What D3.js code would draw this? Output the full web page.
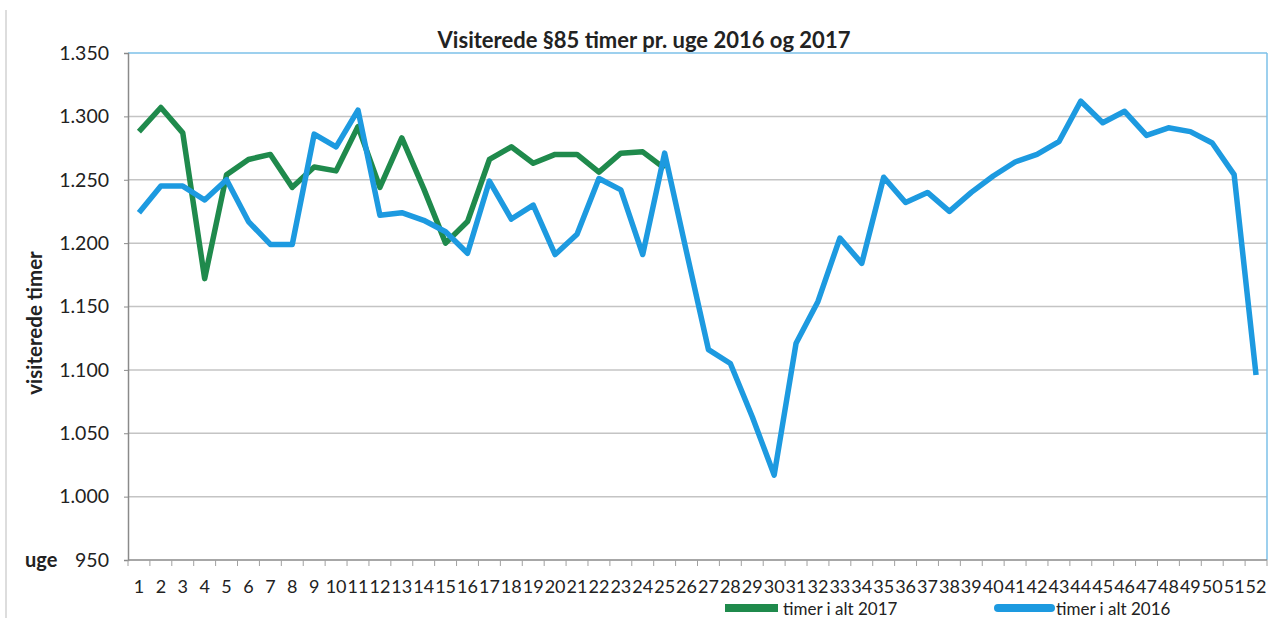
<!DOCTYPE html>
<html>
<head>
<meta charset="utf-8">
<script src="https://cdn.jsdelivr.net/npm/d3@7"></script>
<style>
  body { margin: 0; background: #fff; }
  svg { display: block; font-family: Lato, "Open Sans", sans-serif; }
</style>
</head>
<body>
<div id="container"></div>
<script>
// week numbers on the x axis
const weeks = d3.range(1, 53);

// visited hours 2017 (weeks 1-25)
const hours2017 = [1288, 1307, 1287, 1172, 1254, 1266, 1270, 1244, 1260, 1257,
                   1292, 1244, 1283, 1243, 1200, 1217, 1266, 1276, 1263, 1270,
                   1270, 1256, 1271, 1272, 1259];

// visited hours 2016 (weeks 1-52)
const hours2016 = [1224, 1245, 1245, 1234, 1250, 1217, 1199, 1199, 1286, 1276,
                   1305, 1222, 1224, 1218, 1209, 1192, 1249, 1219, 1230, 1191,
                   1207, 1251, 1242, 1191, 1271, 1193, 1116, 1105, 1063, 1017,
                   1121, 1154, 1204, 1184, 1252, 1232, 1240, 1225, 1240, 1253,
                   1264, 1270, 1280, 1312, 1295, 1304, 1285, 1291, 1288, 1279,
                   1254, 1096];

const yTicks = [950, 1000, 1050, 1100, 1150, 1200, 1250, 1300, 1350];

const w = 1280;
const h = 618;
const plotLeft = 128, plotRight = 1267, plotTop = 53, plotBottom = 560;

const blue = "#1d9ae0";
const green = "#1f8a4c";

// Danish number format: 1.350
const dk = d3.formatLocale({ decimal: ",", thousands: ".", grouping: [3], currency: ["", " kr"] });
const fmt = dk.format(",d");

const svg = d3.select("#container")
              .append("svg")
              .attr("width", w)
              .attr("height", h);

//page edge
svg.append("line")
   .attr("x1", 6).attr("x2", 6).attr("y1", 10).attr("y2", h)
   .attr("stroke", "#ddd").attr("stroke-width", 2);

//SCALES
const xScale = d3.scaleBand()
                 .domain(weeks)
                 .range([plotLeft, plotRight]);
const yScale = d3.scaleLinear()
                 .domain([950, 1350])
                 .range([plotBottom, plotTop]);
const cx = d => xScale(d) + xScale.bandwidth() / 2;

//GRID
svg.append("g")
   .selectAll("line")
   .data(yTicks.slice(1, -1))
   .enter()
   .append("line")
   .attr("x1", plotLeft).attr("x2", plotRight)
   .attr("y1", d => yScale(d)).attr("y2", d => yScale(d))
   .attr("stroke", "#c4c4c4")
   .attr("stroke-width", 1.5);

//plot frame (top and right are light blue)
svg.append("line")
   .attr("x1", plotLeft).attr("x2", plotRight)
   .attr("y1", plotTop).attr("y2", plotTop)
   .attr("stroke", "#7cc0e8").attr("stroke-width", 1.5);
svg.append("line")
   .attr("x1", plotRight).attr("x2", plotRight)
   .attr("y1", plotTop).attr("y2", plotBottom)
   .attr("stroke", "#7cc0e8").attr("stroke-width", 1.5);

//Y AXIS
const yAxis = d3.axisLeft(yScale).tickValues(yTicks).tickFormat(fmt).tickSize(4).tickPadding(15);
const gy = svg.append("g")
   .attr("transform", `translate(${plotLeft}, 0)`)
   .call(yAxis);
gy.select(".domain").attr("stroke", "#8a8a8a").attr("stroke-width", 1.5);
gy.selectAll(".tick line").attr("stroke", "#8a8a8a");
gy.selectAll("text")
  .attr("font-size", 19.5)
  .attr("fill", "#222")
  .attr("font-family", "Lato, sans-serif");

//X AXIS
const gx = svg.append("g")
   .attr("transform", `translate(0, ${plotBottom})`);
gx.append("line")
  .attr("x1", plotLeft).attr("x2", plotRight)
  .attr("stroke", "#8a8a8a").attr("stroke-width", 1.5);
gx.selectAll(".tk")
  .data(weeks.concat([null]))
  .enter()
  .append("line")
  .attr("x1", d => d === null ? plotRight : xScale(d))
  .attr("x2", d => d === null ? plotRight : xScale(d))
  .attr("y1", 0).attr("y2", 6)
  .attr("stroke", "#a0a0a0");
gx.selectAll("text")
  .data(weeks)
  .enter()
  .append("text")
  .attr("x", d => cx(d))
  .attr("y", 33)
  .attr("text-anchor", "middle")
  .attr("font-size", 18)
  .attr("fill", "#222")
  .text(d => d);

//LINES
const line = d3.line()
               .x((d, i) => cx(weeks[i]))
               .y(d => yScale(d));

svg.append("path")
   .datum(hours2017)
   .attr("d", line)
   .attr("fill", "none")
   .attr("stroke", green)
   .attr("stroke-width", 5.5)
   .attr("stroke-linejoin", "round");

svg.append("path")
   .datum(hours2016)
   .attr("d", line)
   .attr("fill", "none")
   .attr("stroke", blue)
   .attr("stroke-width", 5.5)
   .attr("stroke-linejoin", "round");

//TITLES
svg.append("text")
   .attr("x", 644)
   .attr("y", 48)
   .attr("text-anchor", "middle")
   .attr("font-size", 22)
   .attr("font-weight", "bold")
   .attr("fill", "#222")
   .text("Visiterede §85 timer pr. uge 2016 og 2017");

svg.append("text")
   .attr("transform", "translate(42, 323) rotate(-90)")
   .attr("text-anchor", "middle")
   .attr("font-size", 20.5)
   .attr("font-weight", "bold")
   .attr("fill", "#222")
   .text("visiterede timer");

svg.append("text")
   .attr("x", 25)
   .attr("y", 567)
   .attr("font-size", 20)
   .attr("font-weight", "bold")
   .attr("fill", "#222")
   .text("uge");

//LEGEND
const legend = svg.append("g").attr("id", "legend");
const legendItems = [
  { label: "timer i alt 2017", color: green, x: 725 },
  { label: "timer i alt 2016", color: blue, x: 998 }
];
legend.selectAll("line")
      .data(legendItems)
      .enter()
      .append("line")
      .attr("x1", d => d.x).attr("x2", d => d.x + 53)
      .attr("y1", 608).attr("y2", 608)
      .attr("stroke", d => d.color)
      .attr("stroke-width", 8)
      .attr("stroke-linecap", d => d.color === blue ? "round" : "butt");
legend.selectAll("text")
      .data(legendItems)
      .enter()
      .append("text")
      .attr("x", d => d.x + 58)
      .attr("y", 615)
      .attr("font-size", 17)
      .attr("fill", "#222")
      .text(d => d.label);
</script>
</body>
</html>
